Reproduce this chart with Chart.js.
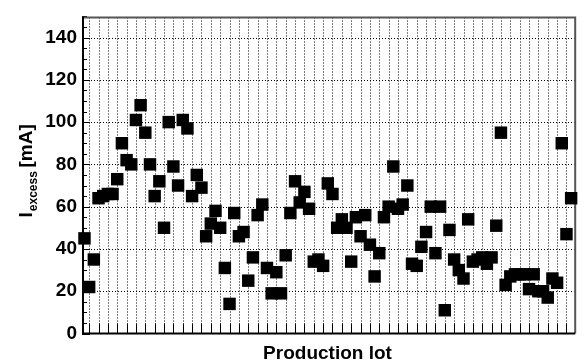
<!DOCTYPE html>
<html>
<head>
<meta charset="utf-8">
<script src="https://cdn.jsdelivr.net/npm/chart.js@4.4.1/dist/chart.umd.min.js"></script>
<style>
  html, body { margin: 0; padding: 0; background: #fff; }
  canvas { display: block; }
</style>
</head>
<body>
<canvas id="chart" width="584" height="360"></canvas>
<script>
// Excess current per production lot (mA), lots numbered in production order
const lotNumbers = Array.from({ length: 105 }, (_, i) => i + 1);
const excessCurrent = [
  45, 22, 35, 64, 65, 66, 66, 73, 90, 82,
  80, 101, 108, 95, 80, 65, 72, 50, 100, 79,
  70, 101, 97, 65, 75, 69, 46, 52, 58, 50,
  31, 14, 57, 46, 48, 25, 36, 56, 61, 31,
  19, 29, 19, 37, 57, 72, 62, 67, 59, 34,
  35, 32, 71, 66, 50, 54, 50, 34, 55, 46,
  56, 42, 27, 38, 55, 60, 79, 59, 61, 70,
  33, 32, 41, 48, 60, 38, 60, 11, 49, 35,
  30, 26, 54, 34, 35, 36, 33, 36, 51, 95,
  23, 27, 28, 28, 28, 21, 28, 20, 20, 17,
  26, 24, 90, 47, 64
];
const yTickValues = [0, 20, 40, 60, 80, 100, 120, 140];
const xTickValues = Array.from({ length: 52 }, (_, i) => 2 * (i + 1)); // every second lot
const yMinorStep = 5;

const FONT = '"Liberation Sans", Arial, Helvetica, sans-serif';

// Dotted grid, inward tick marks and frame, drawn beneath the markers
const frameAndGrid = {
  id: 'frameAndGrid',
  beforeDatasetsDraw(chart) {
    const { ctx, chartArea: a, scales: { x, y } } = chart;
    ctx.save();
    ctx.strokeStyle = '#000';
    ctx.lineWidth = 1;
    ctx.setLineDash([1, 2]);
    ctx.beginPath();
    x.ticks.forEach(t => {
      const px = Math.round(x.getPixelForValue(t.value)) + 0.5;
      ctx.moveTo(px, a.bottom);
      ctx.lineTo(px, a.top);
    });
    y.ticks.forEach(t => {
      if (t.value === y.min) return;
      const py = Math.round(y.getPixelForValue(t.value)) + 0.5;
      ctx.moveTo(a.left, py);
      ctx.lineTo(a.right, py);
    });
    ctx.stroke();
    ctx.setLineDash([]);

    ctx.beginPath();
    x.ticks.forEach(t => {
      const px = Math.round(x.getPixelForValue(t.value)) + 0.5;
      ctx.moveTo(px, a.bottom);
      ctx.lineTo(px, a.bottom - 10);
    });
    for (let v = y.min; v <= y.max; v += yMinorStep) {
      const py = Math.round(y.getPixelForValue(v)) + 0.5;
      const len = v % 20 === 0 ? 8 : 5;
      ctx.moveTo(a.left, py);
      ctx.lineTo(a.left + len, py);
    }
    ctx.stroke();

    ctx.lineWidth = 2;
    ctx.strokeStyle = '#555';
    ctx.beginPath();
    ctx.moveTo(a.left, a.top + 1);
    ctx.lineTo(a.right, a.top + 1);
    ctx.lineTo(a.right, a.bottom);
    ctx.stroke();
    ctx.strokeStyle = '#000';
    ctx.beginPath();
    ctx.moveTo(a.left + 1, a.top);
    ctx.lineTo(a.left + 1, a.bottom);
    ctx.lineTo(a.right, a.bottom);
    ctx.stroke();
    ctx.restore();
  },
  afterDraw(chart) {
    const { ctx, chartArea: a } = chart;
    ctx.save();
    ctx.fillStyle = '#000';
    // x-axis title
    ctx.font = 'bold 19px ' + FONT;
    ctx.textAlign = 'center';
    ctx.textBaseline = 'alphabetic';
    ctx.fillText('Production lot', 327.5, 358.5);
    // y-axis title with subscript, reading upward
    ctx.translate(31.5, 217.5);
    ctx.rotate(-Math.PI / 2);
    ctx.textAlign = 'left';
    ctx.font = 'bold 19px ' + FONT;
    ctx.fillText('I', 0, 0);
    const iw = ctx.measureText('I').width;
    ctx.font = 'bold 12px ' + FONT;
    ctx.fillText('excess', iw + 1, 5);
    ctx.font = 'bold 19px ' + FONT;
    ctx.fillText('[mA]', 50, 0);
    ctx.restore();
  }
};

new Chart(document.getElementById('chart'), {
  type: 'scatter',
  data: {
    datasets: [{
      data: lotNumbers.map((lot, i) => ({ x: lot, y: excessCurrent[i] })),
      pointStyle: 'rect',
      pointRadius: 8.8,
      pointHoverRadius: 8.8,
      pointBackgroundColor: '#000',
      pointBorderWidth: 0,
      showLine: false,
      clip: false
    }]
  },
  options: {
    responsive: false,
    animation: false,
    devicePixelRatio: 1,
    events: [],
    layout: { padding: { top: 9.5, right: 4, left: 0, bottom: 0 } },
    plugins: { legend: { display: false }, tooltip: { enabled: false } },
    scales: {
      x: {
        type: 'linear',
        min: 0.47,
        max: 105.87,
        grid: { display: false, drawTicks: false },
        border: { display: false },
        ticks: { display: false },
        afterBuildTicks: s => { s.ticks = xTickValues.map(v => ({ value: v })); },
        afterFit: s => { s.height = 26.5; }
      },
      y: {
        type: 'linear',
        min: 0,
        max: 150,
        grid: { display: false, drawTicks: false },
        border: { display: false },
        ticks: {
          stepSize: 20,
          padding: 5,
          color: '#000',
          font: { family: FONT, size: 19, weight: 'bold' }
        },
        afterBuildTicks: s => { s.ticks = yTickValues.map(v => ({ value: v })); },
        afterFit: s => { s.width = 82; }
      }
    }
  },
  plugins: [frameAndGrid]
});
</script>
</body>
</html>
